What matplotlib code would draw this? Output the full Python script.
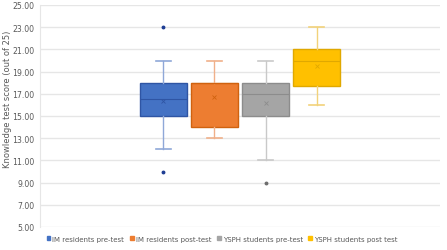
import matplotlib
matplotlib.use("Agg")
from matplotlib import pyplot as plt
from matplotlib.patches import Patch

# box plot summary
groups = ["IM residents pre-test", "IM residents post-test",
          "YSPH students pre-test", "YSPH students post test"]
q1 = [15, 14, 15, 17.7]
q3 = [18, 18, 18, 21]
medians = [16.5, 18, 17, 20]
means = [16.35, 16.7, 16.2, 19.5]
whis_low = [12, 13, 11, 16]
whis_high = [20, 20, 20, 23]
outliers = [[23, 10], [], [9], []]

fill = ["#4472C4", "#ED7D31", "#A5A5A5", "#FFC000"]
edge = ["#2F55A4", "#D0620F", "#8C8C8C", "#E0A800"]
whisk = ["#8FA8D8", "#F0B08A", "#C9C9C9", "#F2D27A"]
flier_col = ["#1F3E94", "#C55A11", "#6E6E6E", "#BF9000"]

fig = plt.figure(figsize=(4.47, 2.51), dpi=100)
ax = fig.add_axes([40/447, 23/251, 400/447, 222/251])

for i in range(len(groups)):
    st = [{"med": medians[i], "q1": q1[i], "q3": q3[i], "whislo": whis_low[i],
           "whishi": whis_high[i], "mean": means[i], "fliers": outliers[i]}]
    ax.bxp(st, positions=[i], widths=0.93, patch_artist=True, showmeans=True,
           boxprops=dict(facecolor=fill[i], edgecolor=edge[i], linewidth=1.0),
           medianprops=dict(color=edge[i], linewidth=0.8),
           whiskerprops=dict(color=whisk[i], linewidth=1.0),
           capprops=dict(color=whisk[i], linewidth=1.2),
           meanprops=dict(marker="x", markersize=3.5, markeredgecolor=edge[i], markeredgewidth=0.6),
           flierprops=dict(marker="o", markersize=1.8, markerfacecolor=flier_col[i],
                           markeredgecolor=flier_col[i]),
           capwidths=0.28, zorder=3)

ax.set_xlim(1.5 - 3.92, 1.5 + 3.92)
ax.set_ylim(5, 25)
ax.set_yticks(range(5, 26, 2))
ax.set_yticklabels(["%.2f" % v for v in range(5, 26, 2)], fontsize=5.6, color="#595959")
ax.set_xticks([])
ax.grid(axis="y", color="#E6E6E6", linewidth=1.0, zorder=0)
ax.set_axisbelow(True)
for s in ["top", "right", "bottom"]:
    ax.spines[s].set_visible(False)
ax.spines["left"].set_color("#E6E6E6")
ax.tick_params(axis="y", length=0, pad=4)
ax.set_ylabel("Knowledge test score (out of 25)", fontsize=6.0, color="#595959")
ax.yaxis.set_label_coords(-0.07, 0.58)

handles = [Patch(facecolor=fill[i], edgecolor=fill[i]) for i in range(len(groups))]
fig.legend(handles, groups, loc="center", bbox_to_anchor=(0.497, 0.045), ncol=4,
           frameon=False, fontsize=5.0, handlelength=0.55, handleheight=0.55,
           handletextpad=0.3, columnspacing=0.8, labelcolor="#595959")

fig.savefig("out.png", dpi=100)
